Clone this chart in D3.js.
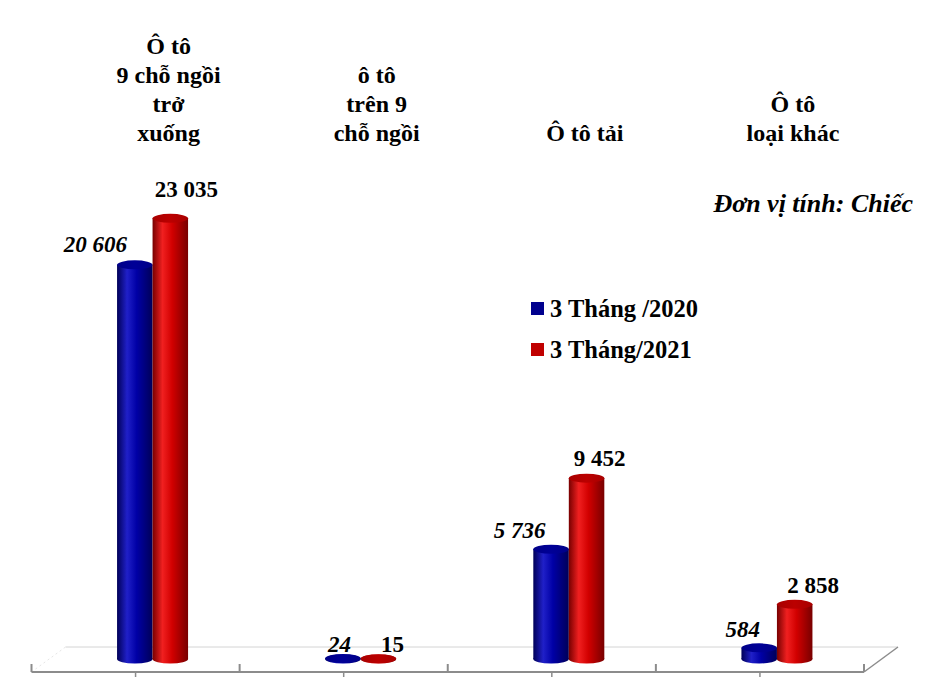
<!DOCTYPE html>
<html>
<head>
<meta charset="utf-8">
<script src="https://cdn.jsdelivr.net/npm/d3@7/dist/d3.min.js"></script>
<style>
  html, body { margin: 0; padding: 0; background: #ffffff; }
  svg { display: block; }
  text { font-family: "Liberation Serif", "Times New Roman", serif; font-weight: bold; fill: #000; }
</style>
</head>
<body>
<svg id="chart" width="941" height="677"></svg>
<script>
// ---- data ----
const categories = [
  ["Ô tô", "9 chỗ ngồi", "trở", "xuống"],
  ["ô tô", "trên 9", "chỗ ngồi"],
  ["Ô tô tải"],
  ["Ô tô", "loại khác"]
];
const seriesNames = ["3 Tháng /2020", "3 Tháng/2021"];
const values2020 = [20606, 24, 5736, 584];
const values2021 = [23035, 15, 9452, 2858];
const unitText = "Đơn vị tính: Chiếc";

// ---- layout / style ----
const W = 941, H = 677;
const colors = [
  { dark: "#000058", light: "#2020c8", mid: "#0000a6", top: "#000088", swatch: "#00008e" },
  { dark: "#780000", light: "#f02020", mid: "#d20000", top: "#a80000", swatch: "#c00000" }
];
const frontY = 672, depthDx = 34, depthDy = 25;
const xLeft = 31.5, xRight = 864;
const barRx = 17.75, barRy = 4.5;
// label nudges (dx, dy) relative to the top of each bar
const labelNudge = [
  [[-39.5, -13], [-3.5, -7], [-31.5, -11], [-16.5, -11]],
  [[16, -21], [14, -7], [13, -12], [18.5, -11]]
];

const svg = d3.select("#chart");
const defs = svg.append("defs");

const x = d3.scaleBand().domain(d3.range(categories.length)).range([xLeft, xRight]).paddingInner(0).paddingOuter(0);
const baseY = frontY - depthDy / 2 - 0.5;
const y = d3.scaleLinear().domain([0, 25000]).range([baseY, baseY - 25000 * 0.01913]);

const fmt = d3.formatLocale({ decimal: ",", thousands: " ", grouping: [3], currency: ["", ""] }).format(",d");

// gradients
colors.forEach((c, i) => {
  const g = defs.append("linearGradient").attr("id", "body" + i).attr("x1", 0).attr("x2", 1).attr("y1", 0).attr("y2", 0);
  g.append("stop").attr("offset", "0%").attr("stop-color", c.dark);
  g.append("stop").attr("offset", "28%").attr("stop-color", c.light);
  g.append("stop").attr("offset", "55%").attr("stop-color", c.mid);
  g.append("stop").attr("offset", "100%").attr("stop-color", c.dark);
  const t = defs.append("linearGradient").attr("id", "top" + i).attr("x1", 0).attr("x2", 1).attr("y1", 0).attr("y2", 0);
  t.append("stop").attr("offset", "0%").attr("stop-color", c.top);
  t.append("stop").attr("offset", "50%").attr("stop-color", d3.color(c.top).brighter(0.3));
  t.append("stop").attr("offset", "100%").attr("stop-color", c.top);
});

// ---- floor ----
const floor = svg.append("g");
floor.append("line").attr("x1", xLeft + depthDx).attr("x2", xRight + depthDx)
  .attr("y1", frontY - depthDy).attr("y2", frontY - depthDy)
  .attr("stroke", "#d4d4d4").attr("stroke-width", 1);
floor.append("line").attr("x1", xLeft).attr("y1", frontY).attr("x2", xLeft + depthDx).attr("y2", frontY - depthDy)
  .attr("stroke", "#e6e6e6").attr("stroke-width", 1).attr("stroke-dasharray", "2,3");
floor.append("line").attr("x1", xRight).attr("y1", frontY).attr("x2", xRight + depthDx).attr("y2", frontY - depthDy)
  .attr("stroke", "#8c8c8c").attr("stroke-width", 1.5);

// front axis with ticks
const axisG = svg.append("g").attr("transform", `translate(0,${frontY})`);
axisG.append("line").attr("x1", xLeft).attr("x2", xRight).attr("y1", 0).attr("y2", 0)
  .attr("stroke", "#8c8c8c").attr("stroke-width", 2);
const boundaries = d3.range(categories.length + 1).map(i => i < categories.length ? x(i) : x(categories.length - 1) + x.bandwidth());
axisG.selectAll("line.bt").data(boundaries).join("line").attr("class", "bt")
  .attr("x1", d => d).attr("x2", d => d).attr("y1", -8).attr("y2", 0)
  .attr("stroke", "#8c8c8c").attr("stroke-width", 2);
axisG.selectAll("line.ct").data(d3.range(categories.length)).join("line").attr("class", "ct")
  .attr("x1", d => x(d) + x.bandwidth() / 2).attr("x2", d => x(d) + x.bandwidth() / 2)
  .attr("y1", 0).attr("y2", 5)
  .attr("stroke", "#8c8c8c").attr("stroke-width", 1.5);

// ---- bars ----
const seriesValues = [values2020, values2021];
const barData = [];
seriesValues.forEach((vals, s) => {
  vals.forEach((v, i) => {
    const cx = x(i) + x.bandwidth() / 2 + depthDx / 2 + (s - 0.5) * barRx * 2;
    barData.push({ s, i, v, cx, top: y(v) });
  });
});
const bars = svg.append("g").selectAll("g").data(barData).join("g");
bars.append("ellipse").attr("cx", d => d.cx).attr("cy", baseY).attr("rx", barRx).attr("ry", barRy)
  .attr("fill", d => `url(#body${d.s})`);
bars.append("rect").attr("x", d => d.cx - barRx).attr("width", barRx * 2)
  .attr("y", d => d.top).attr("height", d => baseY - d.top)
  .attr("fill", d => `url(#body${d.s})`);
bars.append("ellipse").attr("cx", d => d.cx).attr("cy", d => d.top).attr("rx", barRx).attr("ry", barRy)
  .attr("fill", d => `url(#top${d.s})`);

// value labels
svg.append("g").selectAll("text").data(barData).join("text")
  .attr("x", d => d.cx + labelNudge[d.s][d.i][0])
  .attr("y", d => d.top + labelNudge[d.s][d.i][1])
  .attr("text-anchor", "middle")
  .attr("font-size", 23)
  .attr("font-style", d => d.s === 0 ? "italic" : "normal")
  .text(d => fmt(d.v));

// ---- category labels (top) ----
const catG = svg.append("g");
categories.forEach((lines, i) => {
  const cx = x(i) + x.bandwidth() / 2 + 33;
  const t = catG.append("text").attr("text-anchor", "middle").attr("font-size", 24);
  lines.forEach((ln, k) => {
    t.append("tspan").attr("x", cx).attr("y", 141 - (lines.length - 1 - k) * 29).text(ln);
  });
});

// ---- legend ----
const leg = svg.append("g").attr("transform", "translate(531,302)");
seriesNames.forEach((n, s) => {
  const g = leg.append("g").attr("transform", `translate(0,${s * 41})`);
  g.append("rect").attr("width", 13).attr("height", 13).attr("fill", colors[s].swatch);
  g.append("text").attr("x", 19).attr("y", 14.5).attr("font-size", 24.5).text(n);
});

// ---- unit ----
svg.append("text").attr("x", 913).attr("y", 212).attr("text-anchor", "end")
  .attr("font-size", 26).attr("font-style", "italic").attr("font-weight", "normal").text(unitText);
</script>
</body>
</html>
